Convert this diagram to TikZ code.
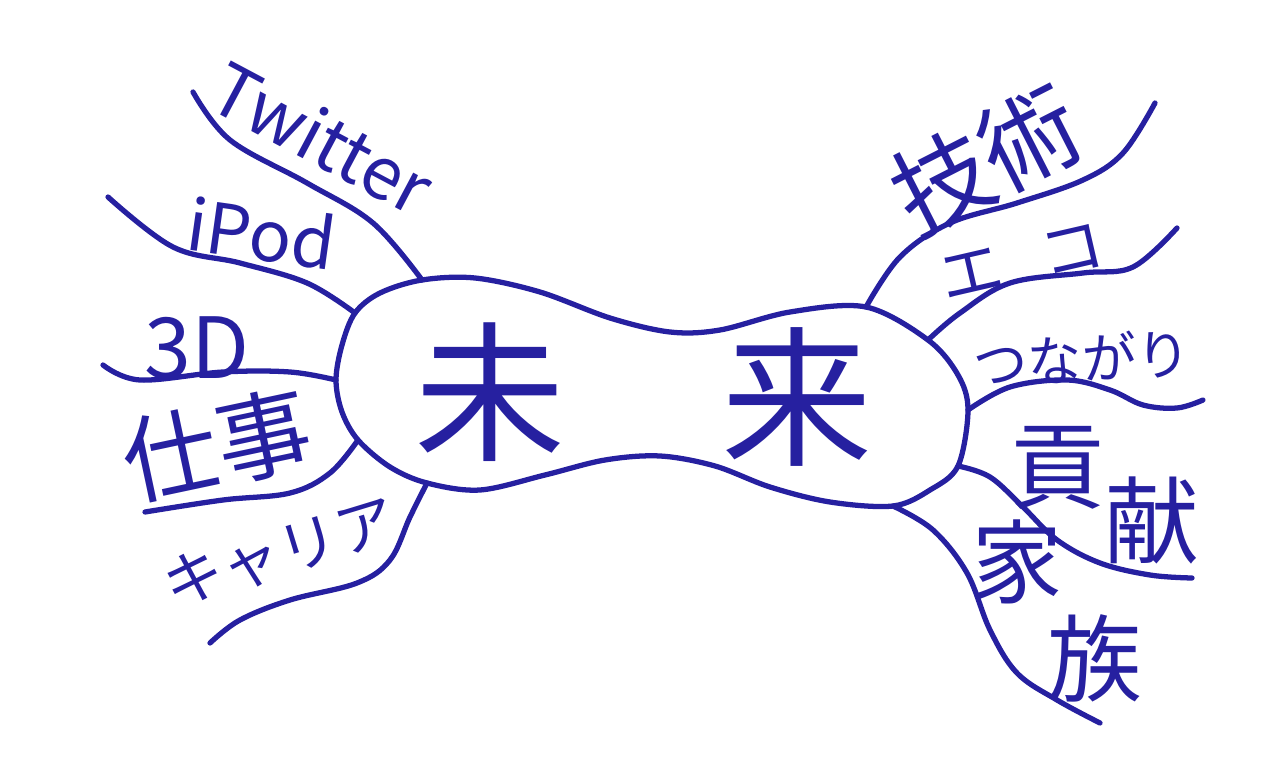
\documentclass[tikz,border=0pt]{standalone}
\usepackage{fontspec}
\usepackage{tikz}
\usetikzlibrary{positioning}
\newfontfamily\jpfont{Noto Sans CJK JP}
\definecolor{inkblue}{RGB}{38,32,160}

\begin{document}
\begin{tikzpicture}[x=0.02cm, y=-0.02cm,
  ink/.style={draw=inkblue, line width=3pt, line cap=round, line join=round},
  lbl/.style={text=inkblue, inner sep=0pt, font=\jpfont\fontsize{#1}{#1}\selectfont}]
 \useasboundingbox (0,0) rectangle (1266,776);
 % junctions on the blob
 \coordinate (jTw) at (422,280);  \coordinate (jPod) at (355,313);
 \coordinate (j3D) at (336,380);  \coordinate (jWork) at (358,440);
 \coordinate (jCar) at (427,483); \coordinate (jTech) at (866,307);
 \coordinate (jEco) at (928,340); \coordinate (jLink) at (968,410);
 \coordinate (jGift) at (958,466); \coordinate (jFam) at (893,506);
 % free ends
 \coordinate (eTw) at (193,92);   \coordinate (ePod) at (108,197);
 \coordinate (e3D) at (103,365);  \coordinate (eWork) at (145,512);
 \coordinate (eCar) at (210,643); \coordinate (eTech) at (1155,103);
 \coordinate (eEco) at (1177,228); \coordinate (eLink) at (1203,400);
 \coordinate (eGift) at (1192,578); \coordinate (eFam) at (1100,723);

 % blob
 \draw[ink] plot[smooth cycle, tension=0.55] coordinates {
   (j3D) (342,345) (jPod) (380,293) (jTw) (475,278) (540,292) (610,318)
   (670,332) (720,330) (790,312) (jTech) (jEco) (958,375) (jLink) (jGift)
   (930,490) (jFam) (830,502) (770,487) (715,466) (660,456) (605,460)
   (545,475) (480,490) (jCar) (390,467) (jWork) (342,412)};
 \node[lbl=86pt] (mi) at (490,392) {未};
 \node[lbl=86pt] (rai) at (797,397) {来};

 % left branches
 \draw[ink] plot[smooth, tension=0.6] coordinates {(jTw) (373,223) (307,183) (230,140) (eTw)};
 \draw[ink] plot[smooth, tension=0.6] coordinates {(jPod) (307,283) (240,263) (173,247) (ePod)};
 \draw[ink] plot[smooth, tension=0.6] coordinates {(j3D) (290,372) (223,372) (140,380) (e3D)};
 \draw[ink] plot[smooth, tension=0.6] coordinates {(jWork) (330,473) (290,493) (223,500) (eWork)};
 \draw[ink] plot[smooth, tension=0.6] coordinates {(jCar) (410,517) (390,560) (357,583) (290,600) (240,620) (eCar)};
 \node[lbl=41pt, rotate=-28] (twitter) at (322,138) {Twitter};
 \node[lbl=40pt, rotate=-8] (ipod) at (262,233) {iPod};
 \node[lbl=48pt] (td) at (197,348) {3D};
 \node[lbl=54pt, rotate=12] (shigoto) at (217,445) {仕事};
 \node[lbl=34pt, rotate=17] (career) at (280,553) {キャリア};

 % right branches
 \draw[ink] plot[smooth, tension=0.6] coordinates {(jTech) (900,257) (950,223) (1017,203) (1083,180) (1123,153) (eTech)};
 \draw[ink] plot[smooth, tension=0.6] coordinates {(jEco) (960,313) (1010,283) (1083,273) (1133,267) (eEco)};
 \draw[ink] plot[smooth, tension=0.6] coordinates {(jLink) (1010,387) (1067,380) (1110,390) (1143,405) (1177,408) (eLink)};
 \draw[ink] plot[smooth, tension=0.6] coordinates {(jGift) (990,477) (1023,507) (1057,540) (1100,563) (1150,575) (eGift)};
 \draw[ink] plot[smooth, tension=0.6] coordinates {(jFam) (933,530) (967,573) (990,630) (1017,673) (1057,700) (eFam)};
 \node[lbl=56pt, rotate=27] (gijutsu) at (986,160) {技術};
 \node[lbl=36pt, rotate=13] (eco) at (1022,262) {エ\hspace{0.8cm}コ};
 \node[lbl=31pt, rotate=3] (tsunagari) at (1082,358) {つながり};
 \node[lbl=54pt] (kou) at (1058,468) {貢};
 \node[lbl=54pt] (ken) at (1152,520) {献};
 \node[lbl=52pt] (ka) at (1017,562) {家};
 \node[lbl=54pt] (zoku) at (1095,658) {族};
\end{tikzpicture}
\end{document}
